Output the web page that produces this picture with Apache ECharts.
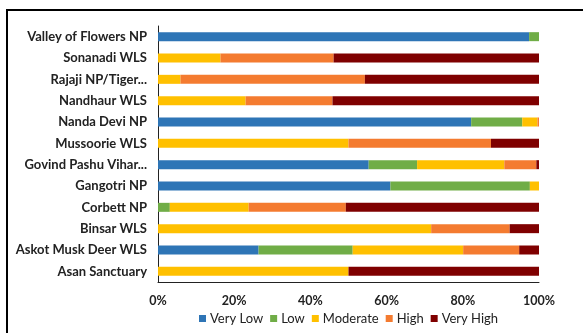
<!DOCTYPE html>
<html>
<head>
<meta charset="utf-8">
<script src="https://cdn.jsdelivr.net/npm/echarts@6/dist/echarts.min.js"></script>
<style>
  html, body { margin: 0; padding: 0; background: #fff; }
  #chart { width: 583px; height: 333px; }
</style>
</head>
<body>
<div id="chart"></div>
<script>
// Protected areas, listed top to bottom
const categories = [
  'Valley of Flowers NP', 'Sonanadi WLS', 'Rajaji NP/Tiger Reserve', 'Nandhaur WLS',
  'Nanda Devi NP', 'Mussoorie WLS', 'Govind Pashu Vihar NP', 'Gangotri NP',
  'Corbett NP', 'Binsar WLS', 'Askot Musk Deer WLS', 'Asan Sanctuary'
];

// Share of area (%) in each class
const veryLow  = [97.4, 0, 0, 0, 82.2, 0, 55.3, 61.0, 0, 0, 26.4, 0];
const low      = [2.6, 0, 0, 0, 13.4, 0, 12.7, 36.6, 3.1, 0, 24.7, 0];
const moderate = [0, 16.4, 5.9, 23.0, 4.0, 50.0, 22.9, 2.4, 20.7, 71.7, 29.0, 50.0];
const high     = [0, 29.7, 48.4, 22.8, 0.4, 37.4, 8.4, 0, 25.5, 20.6, 14.7, 0];
const veryHigh = [0, 53.9, 45.7, 54.2, 0, 12.6, 0.7, 0, 50.7, 7.7, 5.2, 50.0];

const xTicks = ['0%', '20%', '40%', '60%', '80%', '100%'];

const seriesDefs = [
  { name: 'Very Low',  data: veryLow,  color: '#2E75B6' },
  { name: 'Low',       data: low,      color: '#70AD47' },
  { name: 'Moderate',  data: moderate, color: '#FFC000' },
  { name: 'High',      data: high,     color: '#F47B30' },
  { name: 'Very High', data: veryHigh, color: '#7F0000' }
];

const font = 'Lato, "Liberation Sans", sans-serif';

// Long names are cut short and end with an ellipsis
function shortLabel(s) {
  if (s.length <= 20) return s;
  const words = s.split(' ');
  let out = '';
  for (const w of words) {
    const next = out ? out + ' ' + w : w;
    if (next.length > 18) break;
    out = next;
  }
  return out + '...';
}

const chart = echarts.init(document.getElementById('chart'), null, { renderer: 'canvas' });
chart.setOption({
  animation: false,
  backgroundColor: '#fff',
  graphic: [{
    type: 'rect',
    shape: { x: 7, y: 10, width: 600, height: 340 },
    style: { fill: 'none', stroke: '#000', lineWidth: 2 },
    silent: true
  }],
  grid: { left: 158, right: 44, top: 26, bottom: 51, containLabel: false },
  legend: {
    bottom: 3,
    left: 194,
    itemWidth: 7,
    itemHeight: 7,
    itemGap: 7,
    icon: 'rect',
    textStyle: { fontFamily: font, fontSize: 13, color: '#222', padding: [0, 0, 0, -1] },
    data: seriesDefs.map(s => s.name)
  },
  xAxis: {
    type: 'value',
    min: 0,
    max: 100,
    interval: 20,
    axisLine: { show: true, lineStyle: { color: '#222', width: 1 } },
    axisTick: { show: false },
    splitLine: { show: false },
    axisLabel: {
      fontFamily: font, fontWeight: 'bold', fontSize: 12.5, color: '#222', margin: 12,
      formatter: (v) => xTicks[Math.round(v / 20)]
    }
  },
  yAxis: {
    type: 'category',
    data: categories,
    inverse: true,
    axisLine: { show: true, lineStyle: { color: '#222', width: 1 } },
    axisTick: { show: false },
    axisLabel: {
      fontFamily: font, fontWeight: 'bold', fontSize: 13, color: '#222', margin: 11,
      formatter: shortLabel
    }
  },
  series: seriesDefs.map(s => ({
    name: s.name,
    type: 'bar',
    stack: 'total',
    data: s.data,
    barWidth: 9,
    itemStyle: { color: s.color },
    emphasis: { disabled: true }
  }))
});
</script>
</body>
</html>
